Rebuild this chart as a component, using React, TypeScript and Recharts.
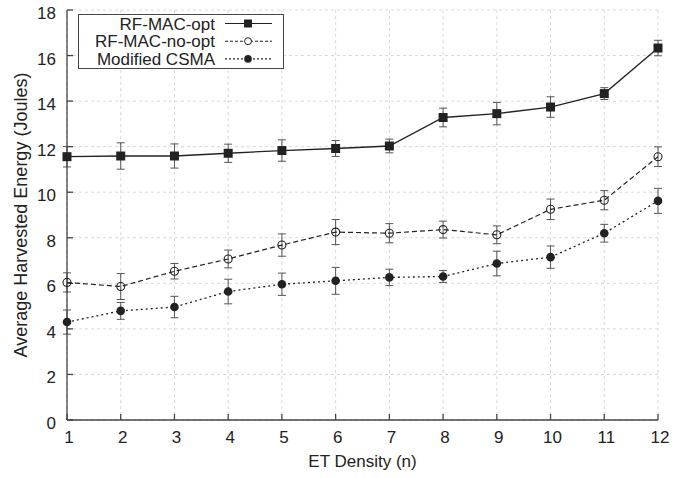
import React from "react";
import { LineChart, Line, XAxis, YAxis, CartesianGrid, ErrorBar } from "recharts";

// ET density on x, mean harvested energy (J) and error half-widths per scheme
const density = [1, 2, 3, 4, 5, 6, 7, 8, 9, 10, 11, 12];
const optMean = [11.56, 11.59, 11.59, 11.71, 11.83, 11.92, 12.03, 13.28, 13.45, 13.74, 14.33, 16.33];
const optErr = [0.45, 0.58, 0.53, 0.4, 0.47, 0.35, 0.3, 0.41, 0.49, 0.45, 0.26, 0.34];
const noOptMean = [6.04, 5.86, 6.53, 7.07, 7.68, 8.25, 8.2, 8.36, 8.13, 9.25, 9.65, 11.56];
const noOptErr = [0.42, 0.57, 0.34, 0.39, 0.49, 0.55, 0.42, 0.37, 0.39, 0.45, 0.42, 0.43];
const csmaMean = [4.3, 4.79, 4.96, 5.64, 5.96, 6.11, 6.26, 6.3, 6.87, 7.15, 8.2, 9.62];
const csmaErr = [0.53, 0.37, 0.47, 0.54, 0.49, 0.59, 0.36, 0.26, 0.54, 0.49, 0.39, 0.55];

const xTicks = [1, 2, 3, 4, 5, 6, 7, 8, 9, 10, 11, 12];
const yTicks = [0, 2, 4, 6, 8, 10, 12, 14, 16, 18];

const seriesNames = ["RF-MAC-opt", "RF-MAC-no-opt", "Modified CSMA"];

const data = density.map((d, i) => ({
  n: d,
  opt: optMean[i],
  optErr: optErr[i],
  noOpt: noOptMean[i],
  noOptErr: noOptErr[i],
  csma: csmaMean[i],
  csmaErr: csmaErr[i],
}));

const FONT = "'Liberation Sans', Arial, Helvetica, sans-serif";
const INK = "#222";
const AXIS = "#444";

const SquareDot = (props: any) => {
  const { cx, cy, index } = props;
  if (cx == null || cy == null) return null;
  return <rect key={`sq-${index}`} x={cx - 4.5} y={cy - 4.5} width={9} height={9} fill={INK} />;
};

const OpenDot = (props: any) => {
  const { cx, cy, index } = props;
  if (cx == null || cy == null) return null;
  return <circle key={`oc-${index}`} cx={cx} cy={cy} r={4} fill="none" stroke={INK} strokeWidth={1.1} />;
};

const FilledDot = (props: any) => {
  const { cx, cy, index } = props;
  if (cx == null || cy == null) return null;
  return <circle key={`fc-${index}`} cx={cx} cy={cy} r={4.3} fill={INK} />;
};

// gnuplot-style key box, placed over the plot so it doesn't shrink the plot area
const LegendBox = () => {
  const rows = [
    { dash: undefined, marker: "square" },
    { dash: "3 2", marker: "open" },
    { dash: "2 2", marker: "filled" },
  ];
  return (
    <svg width={206} height={55} style={{ position: "absolute", left: 78, top: 14, display: "block" }}>
      <rect x={0.5} y={0.5} width={205} height={54} fill="#fff" stroke={AXIS} strokeWidth={1} />
      {rows.map((r, i) => {
        const y = 9.5 + i * 17.7;
        return (
          <g key={i}>
            <text x={137} y={y + 6} textAnchor="end" fontSize={17} fill={INK} fontFamily={FONT}>
              {seriesNames[i]}
            </text>
            <line x1={147} x2={194} y1={y} y2={y} stroke={INK} strokeWidth={1.1} strokeDasharray={r.dash} />
            {r.marker === "square" && <rect x={166} y={y - 4} width={8} height={8} fill={INK} />}
            {r.marker === "open" && <circle cx={170} cy={y} r={3.5} fill="#fff" stroke={INK} strokeWidth={1} />}
            {r.marker === "filled" && <circle cx={170} cy={y} r={3.8} fill={INK} />}
          </g>
        );
      })}
    </svg>
  );
};

export default function App() {
  return (
    <div style={{ position: "absolute", left: 0, top: 0, width: 685, height: 478, background: "#fff", fontFamily: FONT }}>
      <LineChart width={685} height={478} data={data} margin={{ top: 10, right: 27, bottom: 0, left: 0 }}>
        <CartesianGrid stroke="#d8d8d8" strokeDasharray="3 3" />
        <XAxis
          dataKey="n"
          type="number"
          domain={[1, 12]}
          ticks={xTicks}
          height={58}
          tickSize={-6}
          tickMargin={17}
          stroke={AXIS}
          strokeWidth={1.3}
          tick={{ fill: INK, fontSize: 17, dx: 2 }}
          label={{ value: "ET Density (n)", position: "insideBottom", offset: 11, fill: INK, fontSize: 17 }}
        />
        <XAxis xAxisId="top" orientation="top" type="number" domain={[1, 12]} ticks={xTicks} height={0} tick={false} tickLine={false} stroke={AXIS} strokeWidth={1.3} />
        <YAxis
          type="number"
          domain={[0, 18]}
          ticks={yTicks}
          width={67}
          tickSize={-6}
          tickMargin={17}
          stroke={AXIS}
          strokeWidth={1.3}
          tick={{ fill: INK, fontSize: 17, dy: 3 }}
          label={{ value: "Average Harvested Energy (Joules)", angle: -90, position: "center", dx: -13, fill: INK, fontSize: 18 }}
        />
        <YAxis yAxisId="right" orientation="right" type="number" domain={[0, 18]} ticks={yTicks} width={0} tickSize={-6} tick={false} stroke={AXIS} strokeWidth={1.3} />
        <Line dataKey="opt" name={seriesNames[0]} stroke={INK} strokeWidth={1.3} dot={SquareDot} activeDot={false} isAnimationActive={false}>
          <ErrorBar dataKey="optErr" width={4} stroke="#555" strokeWidth={1} direction="y" isAnimationActive={false} />
        </Line>
        <Line dataKey="noOpt" name={seriesNames[1]} stroke={INK} strokeWidth={1.2} strokeDasharray="5 3" dot={OpenDot} activeDot={false} isAnimationActive={false}>
          <ErrorBar dataKey="noOptErr" width={4} stroke="#555" strokeWidth={1} direction="y" isAnimationActive={false} />
        </Line>
        <Line dataKey="csma" name={seriesNames[2]} stroke={INK} strokeWidth={1.3} strokeDasharray="2 3" dot={FilledDot} activeDot={false} isAnimationActive={false}>
          <ErrorBar dataKey="csmaErr" width={4} stroke="#555" strokeWidth={1} direction="y" isAnimationActive={false} />
        </Line>
      </LineChart>
      <LegendBox />
    </div>
  );
}
